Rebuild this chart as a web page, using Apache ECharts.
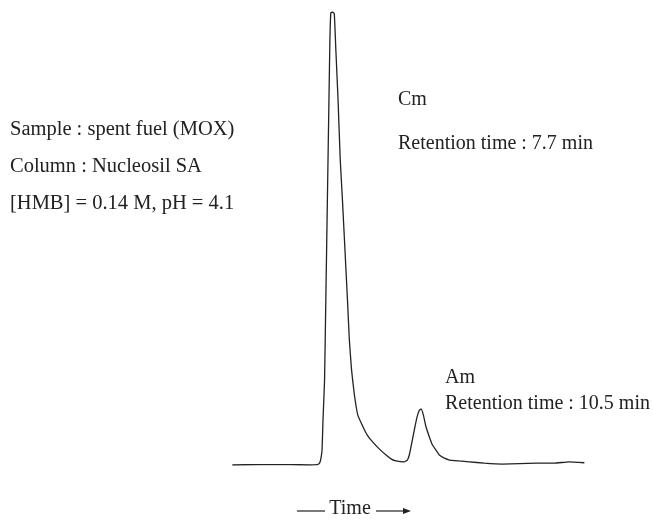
<!DOCTYPE html>
<html lang="en">
<head>
  <meta charset="UTF-8" />
  <title>Cm / Am chromatogram</title>
  <script src="https://cdn.jsdelivr.net/npm/echarts@6/dist/echarts.min.js"></script>
  <style>
    html, body { margin: 0; background: #fff; }
    #chart { width: 653px; height: 520px; }
  </style>
</head>
<body>
  <div id="chart"></div>
  <script>
    // retention time (min) and detector signal (% of the Cm peak)
    const times = [4.51, 5.38, 6.33, 6.97, 7.22, 7.29, 7.33, 7.37, 7.40, 7.45, 7.49, 7.54, 7.59, 7.62, 7.65, 7.70,
      7.76, 7.81, 7.88, 7.95, 8.02, 8.10, 8.18, 8.24, 8.31, 8.40, 8.51, 8.67, 8.81, 8.98, 9.20, 9.41, 9.58, 9.73,
      9.99, 10.09, 10.15, 10.23, 10.31, 10.39, 10.47, 10.53, 10.60, 10.68, 10.79, 10.89, 11.00, 11.11, 11.27, 11.43,
      11.74, 12.06, 12.54, 13.11, 13.66, 14.20, 14.77, 15.24, 15.73];
    const signal = [0, 0.1, 0.1, 0, 0.1, 0.4, 1.3, 3.3, 9.9, 18.8, 36.4, 58.5, 80.6, 93.8, 99.8, 100,
      99.6, 91.6, 80.6, 67.3, 58.5, 47.5, 36.4, 27.6, 21.0, 15.5, 11.0, 8.5, 6.6, 5.1, 3.5, 2.2, 1.3, 0.9,
      0.7, 1.1, 2.2, 4.9, 7.7, 10.4, 12.1, 12.4, 11.0, 8.5, 6.2, 4.4, 3.3, 2.2, 1.5, 1.1,
      0.9, 0.7, 0.4, 0.2, 0.3, 0.4, 0.4, 0.7, 0.5];

    const conditions = ['Sample : spent fuel (MOX)', 'Column : Nucleosil SA', '[HMB] = 0.14 M, pH = 4.1'];
    const peakNames = ['Cm', 'Am'];
    const peakTimes = ['Retention time : 7.7 min', 'Retention time : 10.5 min'];
    const axisLabel = 'Time';

    const font = '"Liberation Serif", "Times New Roman", serif';
    const ink = '#222';

    function label(x, y, text, size) {
      return {
        type: 'text', x: x, y: y,
        style: { text: text, fill: ink, font: size + 'px ' + font, verticalAlign: 'middle' }
      };
    }

    const chart = echarts.init(document.getElementById('chart'));

    chart.setOption({
      backgroundColor: '#fff',
      animation: false,
      grid: { left: 232, right: 68, top: 12, bottom: 55 },
      xAxis: { type: 'value', min: 4.5, max: 15.75, show: false },
      yAxis: { type: 'value', min: 0, max: 100, show: false },
      series: [{
        type: 'line',
        data: times.map((t, i) => [t, signal[i]]),
        showSymbol: false,
        smooth: 0.1,
        lineStyle: { color: ink, width: 1.3 }
      }],
      graphic: [
        label(10, 130, conditions[0], 20.5),
        label(10, 167, conditions[1], 20.5),
        label(10, 204, conditions[2], 20.5),
        label(398, 100, peakNames[0], 20),
        label(398, 144, peakTimes[0], 20),
        label(445, 378, peakNames[1], 20),
        label(445, 404, peakTimes[1], 20),
        {
          type: 'text', x: 350, y: 509,
          style: { text: axisLabel, fill: ink, font: '20px ' + font, align: 'center', verticalAlign: 'middle' }
        },
        { type: 'line', shape: { x1: 297, y1: 511, x2: 325, y2: 511 }, style: { stroke: ink, lineWidth: 1.2 } },
        { type: 'line', shape: { x1: 376, y1: 511, x2: 404, y2: 511 }, style: { stroke: ink, lineWidth: 1.2 } },
        { type: 'polygon', shape: { points: [[403, 508], [411, 511], [403, 514]] }, style: { fill: ink } }
      ]
    });
  </script>
</body>
</html>
